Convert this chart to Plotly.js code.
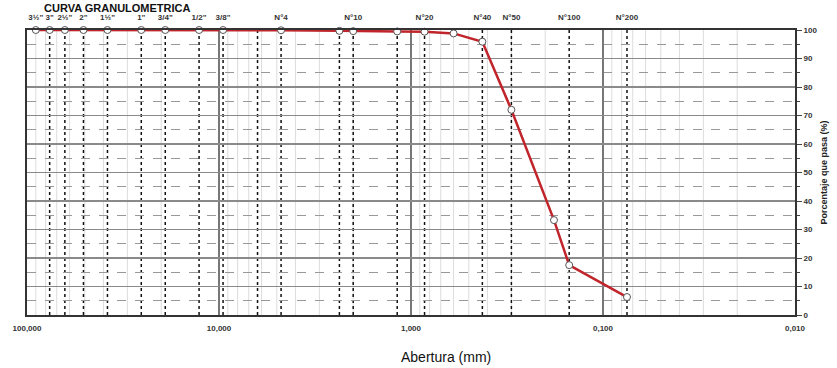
<!DOCTYPE html>
<html>
<head>
<meta charset="utf-8">
<script src="https://cdn.plot.ly/plotly-3.0.1.min.js"></script>
<style>html,body{margin:0;padding:0;background:#fff;}#chart{width:837px;height:368px;}</style>
</head>
<body>
<div id="chart"></div>
<script>
// Sieve openings (mm) and percentage passing
const sampleSizes = [90, 76.2, 63.5, 50.8, 38.1, 25.4, 19.05, 12.7, 9.525, 4.75, 2.36, 2.0, 1.18, 0.85, 0.6, 0.425, 0.3, 0.18, 0.15, 0.075];
const samplePass  = [100, 100, 100, 100, 100, 100, 100, 100, 100, 99.9, 99.7, 99.6, 99.5, 99.4, 98.8, 95.9, 72, 33.3, 17.5, 6.3];

// Top labels (sieve names)
const sieveLabelSizes = [90, 76.2, 63.5, 50.8, 38.1, 25.4, 19.05, 12.7, 9.525, 4.75, 2.0, 0.85, 0.425, 0.3, 0.15, 0.075];
const sieveLabels = ['3½"', '3"', '2½"', '2"', '1½"', '1"', '3/4"', '1/2"', '3/8"', 'N°4', 'N°10', 'N°20', 'N°40', 'N°50', 'N°100', 'N°200'];

// Dotted reference lines at standard sieves
const sieveLineSizes = [76.2, 63.5, 50.8, 38.1, 25.4, 19.05, 12.7, 9.525, 6.3, 4.75, 2.36, 2.0, 1.18, 0.85, 0.425, 0.3, 0.15, 0.075];

// Bottom axis ticks
const xTickVals = [100, 10, 1, 0.1, 0.01];
const xTickText = ['100,000', '10,000', '1,000', '0,100', '0,010'];

const yTickVals = [0, 10, 20, 30, 40, 50, 60, 70, 80, 90, 100];

const shapes = [];
// minor log grid
for (let e = -2; e < 2; e++) {
  for (let m = 2; m <= 9; m++) {
    const v = m * Math.pow(10, e);
    shapes.push({type: 'line', xref: 'x', yref: 'paper', x0: v, x1: v, y0: 0, y1: 1,
      line: {color: '#dcdcdc', width: 1}, layer: 'below'});
  }
}
// sieve dotted lines
sieveLineSizes.forEach(v => {
  shapes.push({type: 'line', xref: 'x', yref: 'paper', x0: v, x1: v, y0: 0, y1: 1,
    line: {color: '#111', width: 1.5, dash: 'dot'}, layer: 'below'});
});

const traces = [
  {
    x: sampleSizes, y: samplePass, type: 'scatter', mode: 'lines+markers',
    line: {color: '#c0252b', width: 2.5},
    marker: {size: 7, color: '#ffffff', line: {color: '#555', width: 1}},
    cliponaxis: false, hoverinfo: 'x+y'
  },
  {
    x: sieveLabelSizes, y: sieveLabelSizes.map(() => 100), xaxis: 'x2', type: 'scatter', mode: 'markers',
    marker: {size: 1, color: 'rgba(0,0,0,0)'}, hoverinfo: 'skip', showlegend: false
  }
];

const layout = {
  width: 837, height: 368,
  margin: {l: 27, r: 42, t: 30, b: 53},
  paper_bgcolor: '#fff', plot_bgcolor: '#fff',
  showlegend: false,
  font: {family: 'Liberation Sans, Arial, sans-serif', color: '#222'},
  xaxis: {
    type: 'log', range: [2, -2],
    tickvals: xTickVals, ticktext: xTickText,
    tickfont: {size: 8, weight: 'bold', color: '#333'},
    showgrid: true, gridcolor: '#777', gridwidth: 2.5,
    showline: true, linecolor: '#333', linewidth: 2, mirror: true,
    ticks: 'outside', ticklen: 4, tickcolor: 'rgba(0,0,0,0)', zeroline: false
  },
  xaxis2: {
    type: 'log', range: [2, -2], overlaying: 'x', side: 'top',
    tickvals: sieveLabelSizes, ticktext: sieveLabels, tickangle: 0,
    tickfont: {size: 8, weight: 'bold', color: '#333'},
    ticks: 'outside', ticklen: 6, tickcolor: 'rgba(0,0,0,0)',
    showgrid: false, showline: false, zeroline: false
  },
  yaxis: {
    side: 'right', range: [0, 100],
    tickvals: yTickVals,
    tickfont: {size: 8, weight: 'bold', color: '#333'},
    ticks: 'outside', ticklen: 5, tickcolor: '#444', tickwidth: 1,
    minor: {dtick: 5, showgrid: true, griddash: 'dash', gridcolor: '#999', gridwidth: 1.2, ticks: 'outside', ticklen: 3, tickcolor: '#444'},
    showgrid: true, gridcolor: '#8a8a8a', gridwidth: 1.6,
    showline: true, linecolor: '#333', linewidth: 2, mirror: true,
    zeroline: false,
    title: {text: 'Porcentaje que pasa (%)', font: {size: 9, weight: 'bold', color: '#222'}, standoff: 4}
  },
  shapes: shapes,
  annotations: [
    {text: '<b>CURVA GRANULOMETRICA</b>', xref: 'paper', yref: 'paper', x: (193 - 27) / 768, y: 1 + 30 / 285,
     xanchor: 'right', yanchor: 'top', showarrow: false, font: {size: 11, color: '#111'}},
    {text: 'Abertura (mm)', xref: 'paper', yref: 'paper', x: (446 - 27) / 768, y: -(357 - 315) / 285,
     xanchor: 'center', yanchor: 'middle', showarrow: false, font: {size: 14, color: '#111'}}
  ]
};

Plotly.newPlot('chart', traces, layout, {displayModeBar: false, staticPlot: true});
</script>
</body>
</html>
